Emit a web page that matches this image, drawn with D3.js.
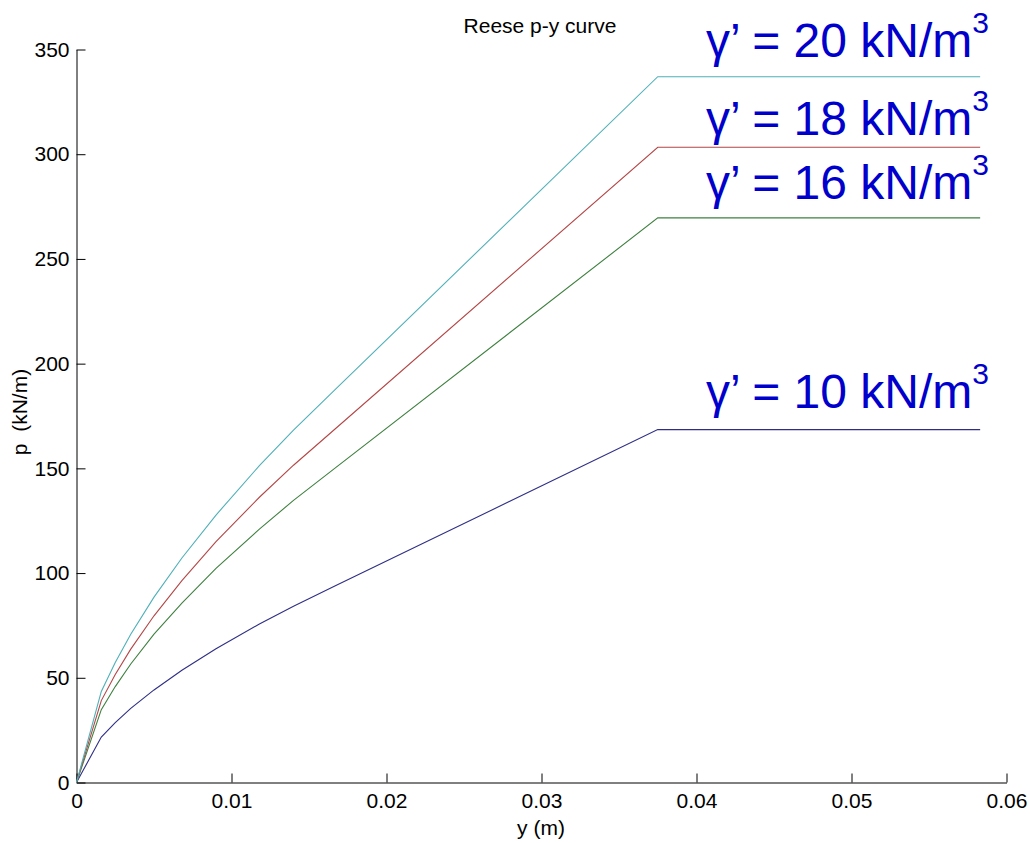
<!DOCTYPE html>
<html>
<head>
<meta charset="utf-8">
<script src="https://cdn.jsdelivr.net/npm/d3@7"></script>
<style>
  html, body { margin: 0; padding: 0; background: #fff; }
  svg { display: block; font-family: "Liberation Sans", Arial, sans-serif; }
</style>
</head>
<body>
<div id="chart"></div>
<script>
// ---- data ----
const yDisp = [0, 0.0016, 0.0025, 0.0035, 0.005, 0.0068, 0.009, 0.0118, 0.014, 0.0167, 0.0375, 0.0583];
const pGamma10 = [0, 21.7, 28.6, 35.4, 44.2, 53.6, 63.9, 75.7, 84.2, 93.9, 168.5, 168.5];
const pGamma16 = [0, 34.8, 45.8, 56.6, 70.8, 85.7, 102.2, 121.0, 134.7, 150.2, 269.6, 269.6];
const pGamma18 = [0, 39.1, 51.6, 63.7, 79.6, 96.4, 115.0, 136.2, 151.5, 168.9, 303.3, 303.3];
const pGamma20 = [0, 43.5, 57.3, 70.8, 88.5, 107.2, 127.7, 151.3, 168.3, 187.7, 337.0, 337.0];
const seriesNames = ["γ’ = 10 kN/m", "γ’ = 16 kN/m", "γ’ = 18 kN/m", "γ’ = 20 kN/m"];
const xTickValues = [0, 0.01, 0.02, 0.03, 0.04, 0.05, 0.06];
const xTickLabels = ["0", "0.01", "0.02", "0.03", "0.04", "0.05", "0.06"];
const yTickValues = [0, 50, 100, 150, 200, 250, 300, 350];
const yTickLabels = ["0", "50", "100", "150", "200", "250", "300", "350"];
const titleText = "Reese p-y curve";
const xLabel = "y (m)";
const yLabel = "p  (kN/m)";

// ---- layout ----
const W = 1030, H = 843;
const colors = ["#2e2e86", "#3f8040", "#b44646", "#4fb0b8"];
const labelX = 706;
const labelBaselines = [408, 199, 135, 56.5];

const svg = d3.select("#chart").append("svg").attr("width", W).attr("height", H);

const x = d3.scaleLinear().domain([0, 0.06]).range([76.5, 1006.5]);
const y = d3.scaleLinear().domain([0, 350]).range([782.5, 49.5]);

// axes
const xAxis = d3.axisBottom(x).tickValues(xTickValues)
  .tickFormat((d, i) => xTickLabels[i]).tickSizeInner(-9).tickSizeOuter(0).tickPadding(11);
const yAxis = d3.axisLeft(y).tickValues(yTickValues)
  .tickFormat((d, i) => yTickLabels[i]).tickSizeInner(-9).tickSizeOuter(0).tickPadding(7);

const gx = svg.append("g").attr("transform", `translate(0,${y(0)})`).call(xAxis);
const gy = svg.append("g").attr("transform", `translate(${x(0)},0)`).call(yAxis);
[gx, gy].forEach(g => {
  g.selectAll("text").attr("font-size", 21).attr("fill", "#000")
    .attr("font-family", "'Liberation Sans', Arial, sans-serif");
  g.selectAll("line").attr("stroke", "#000");
  g.select(".domain").attr("stroke", "#000");
});

// lines
const allSeries = [pGamma10, pGamma16, pGamma18, pGamma20];
const line = d3.line().x((d, i) => x(yDisp[i])).y(d => y(d));
allSeries.forEach((s, k) => {
  svg.append("path").datum(s)
    .attr("d", line)
    .attr("fill", "none")
    .attr("stroke", colors[k])
    .attr("stroke-width", 1.1);
});

// series labels
seriesNames.forEach((name, k) => {
  const t = svg.append("text")
    .attr("x", labelX).attr("y", labelBaselines[k])
    .attr("fill", "#0000cc")
    .attr("font-size", 48);
  t.append("tspan").text(name);
  t.append("tspan").attr("font-size", 30).attr("dy", -24).text("3");
});

// title & axis labels
svg.append("text").attr("x", 540).attr("y", 33).attr("text-anchor", "middle")
  .attr("font-size", 21).attr("fill", "#000").text(titleText);
svg.append("text").attr("x", 541).attr("y", 835).attr("text-anchor", "middle")
  .attr("font-size", 21).attr("fill", "#000").text(xLabel);
svg.append("text")
  .attr("transform", "translate(27,412) rotate(-90)")
  .attr("text-anchor", "middle").style("white-space", "pre")
  .attr("font-size", 21).attr("fill", "#000").text(yLabel);
</script>
</body>
</html>
